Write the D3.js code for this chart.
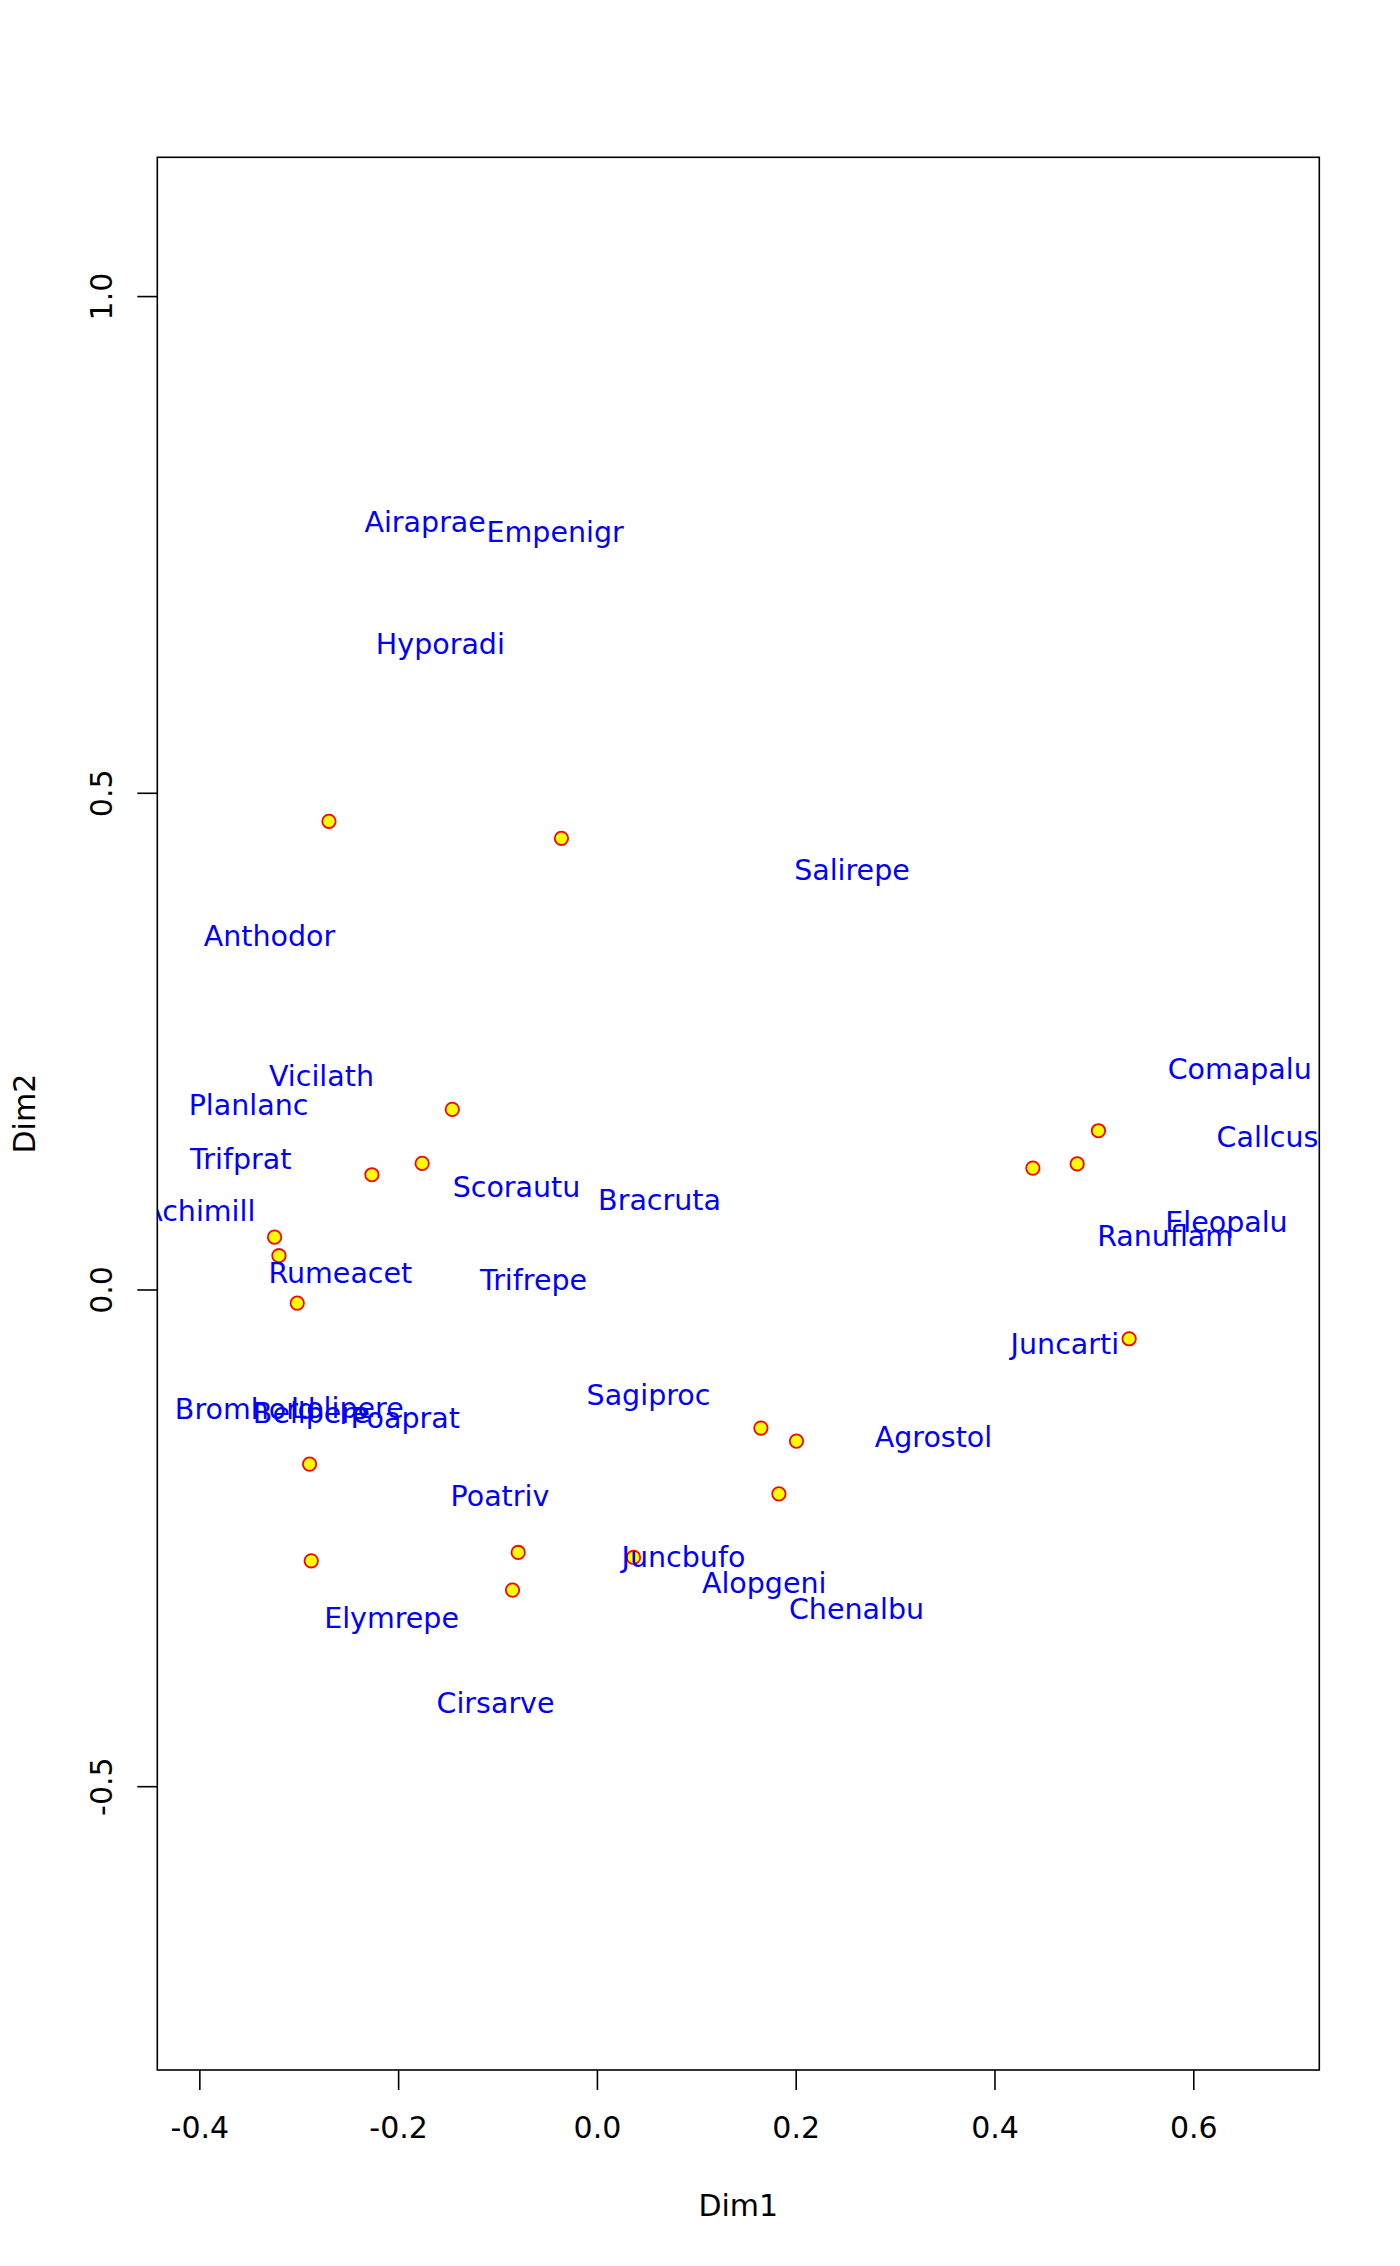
<!DOCTYPE html>
<html>
<head>
<meta charset="utf-8">
<script src="https://cdn.jsdelivr.net/npm/d3@7"></script>
<style>
  body { margin: 0; background: #fff; }
  svg { display: block; font-family: "DejaVu Sans", sans-serif; }
</style>
</head>
<body>
<svg id="chart"></svg>
<script>
// site scores (points)
const siteX = [-0.2696, -0.0357, -0.1455, -0.1758, -0.2264, -0.3243, -0.3199, -0.3015, -0.2891, 0.1650,
               0.2008, 0.1831, 0.0368, 0.5046, 0.4832, 0.4386, 0.5355, -0.2874, -0.0792, -0.0849];
const siteY = [0.4713, 0.4542, 0.1813, 0.1269, 0.1155, 0.0527, 0.0340, -0.0137, -0.1758, -0.1395,
               -0.1526, -0.2057, -0.2697, 0.1598, 0.1265, 0.1222, -0.0496, -0.2731, -0.2647, -0.3026];

// species scores (labels)
const species = ["Achimill", "Agrostol", "Airaprae", "Alopgeni", "Anthodor", "Bellpere", "Bromhord",
  "Chenalbu", "Cirsarve", "Comapalu", "Eleopalu", "Elymrepe", "Empenigr", "Hyporadi", "Juncarti",
  "Juncbufo", "Lolipere", "Planlanc", "Poaprat", "Poatriv", "Ranuflam", "Rumeacet", "Sagiproc",
  "Salirepe", "Scorautu", "Trifprat", "Trifrepe", "Vicilath", "Bracruta", "Callcus"];
const specX = [-0.4001, 0.3386, -0.1728, 0.1683, -0.3295, -0.2872, -0.3539, 0.2612, -0.1020, 0.6467,
  0.6334, -0.2066, -0.0420, -0.1575, 0.4708, 0.0871, -0.2512, -0.3505, -0.1929, -0.0976,
  0.5717, -0.2581, 0.0519, 0.2566, -0.0809, -0.3583, -0.0638, -0.2771, 0.0630, 0.6747];
const specY = [0.0796, -0.1479, 0.7733, -0.2955, 0.3562, -0.1243, -0.1200, -0.3210, -0.4163, 0.2226,
  0.0686, -0.3301, 0.7633, 0.6502, -0.0549, -0.2687, -0.1185, 0.1857, -0.1294, -0.2073,
  0.0542, 0.0172, -0.1059, 0.4227, 0.1038, 0.1314, 0.0099, 0.2155, 0.0904, 0.1535];

const xTicks = [-0.4, -0.2, 0.0, 0.2, 0.4, 0.6];
const yTicks = [-0.5, 0.0, 0.5, 1.0];

const width = 1400;
const height = 2266;
const margin = { top: 157.3, right: 80.7, bottom: 196, left: 157.3 };

const svg = d3.select("#chart").attr("width", width).attr("height", height);

const x = d3.scaleLinear()
  .domain([-0.4423, 0.7268])
  .range([margin.left, width - margin.right]);

const y = d3.scaleLinear()
  .domain([-0.7857, 1.1397])
  .range([height - margin.bottom, margin.top]);

svg.append("clipPath")
  .attr("id", "plot-clip")
  .append("rect")
  .attr("x", margin.left)
  .attr("y", margin.top)
  .attr("width", width - margin.left - margin.right)
  .attr("height", height - margin.top - margin.bottom);

const fmt = (d) => d.toFixed(1);

// x axis
const gx = svg.append("g")
  .attr("transform", `translate(0,${height - margin.bottom})`)
  .call(d3.axisBottom(x).tickValues(xTicks).tickFormat(fmt).tickSize(20).tickSizeOuter(0));
gx.select(".domain").remove();
gx.selectAll("line").attr("stroke", "#000").attr("stroke-width", 1.6);
gx.selectAll("text")
  .attr("y", 68.3).attr("dy", null)
  .attr("font-size", 30).attr("font-family", "DejaVu Sans").attr("fill", "#000");

// y axis
const gy = svg.append("g")
  .attr("transform", `translate(${margin.left},0)`)
  .call(d3.axisLeft(y).tickValues(yTicks).tickFormat(fmt).tickSize(20).tickSizeOuter(0));
gy.select(".domain").remove();
gy.selectAll("line").attr("stroke", "#000").attr("stroke-width", 1.6);
gy.selectAll("text")
  .attr("x", null).attr("dy", null)
  .attr("text-anchor", "middle")
  .attr("transform", "translate(-45.3,0) rotate(-90)")
  .attr("font-size", 30).attr("font-family", "DejaVu Sans").attr("fill", "#000");

// axis titles
svg.append("text")
  .attr("x", (margin.left + width - margin.right) / 2)
  .attr("y", height - margin.bottom + 145.7)
  .attr("text-anchor", "middle")
  .attr("font-size", 30)
  .text("Dim1");

svg.append("text")
  .attr("transform", `translate(35,${(margin.top + height - margin.bottom) / 2}) rotate(-90)`)
  .attr("text-anchor", "middle")
  .attr("font-size", 30)
  .text("Dim2");

// sites
const plot = svg.append("g").attr("clip-path", "url(#plot-clip)");

plot.selectAll("circle")
  .data(siteX.map((d, i) => ({ x: d, y: siteY[i] })))
  .join("circle")
  .attr("cx", (d) => x(d.x))
  .attr("cy", (d) => y(d.y))
  .attr("r", 6.7)
  .attr("fill", "#ffff00")
  .attr("stroke", "#ff0000")
  .attr("stroke-width", 1.8);

// species labels
plot.selectAll("text")
  .data(species.map((name, i) => ({ name, x: specX[i], y: specY[i] })))
  .join("text")
  .attr("x", (d) => x(d.x))
  .attr("y", (d) => y(d.y))
  .attr("dy", "0.365em")
  .attr("text-anchor", "middle")
  .attr("font-size", 28.5)
  .attr("fill", "#0000ff")
  .text((d) => d.name);

// box
svg.append("rect")
  .attr("x", margin.left)
  .attr("y", margin.top)
  .attr("width", width - margin.left - margin.right)
  .attr("height", height - margin.top - margin.bottom)
  .attr("fill", "none")
  .attr("stroke", "#000")
  .attr("stroke-width", 1.6);
</script>
</body>
</html>
